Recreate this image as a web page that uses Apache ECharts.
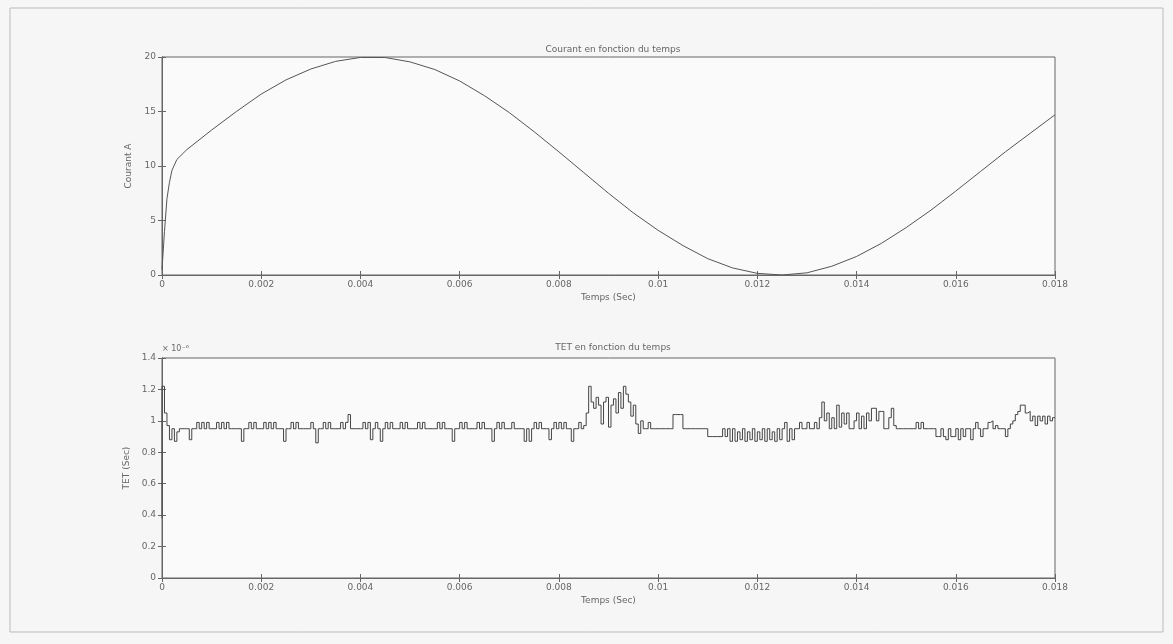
<!DOCTYPE html>
<html><head><meta charset="utf-8">
<script src="https://cdn.jsdelivr.net/npm/echarts@6/dist/echarts.min.js"></script>
<style>html,body{margin:0;padding:0;background:#f6f6f6}#c{width:1173px;height:644px}</style>
</head><body><div id="c"></div>
<script>
// ---- data ----
const xTicks = [0,0.002,0.004,0.006,0.008,0.01,0.012,0.014,0.016,0.018];
const courantTime = [0,0.00005,0.0001,0.00015,0.0002,0.0003,0.0005,0.001,0.0015,0.002,0.0025,0.003,0.0035,0.004,0.0045,0.005,0.0055,0.006,0.0065,0.007,0.0075,0.008,0.0085,0.009,0.0095,0.01,0.0105,0.011,0.0115,0.012,0.0125,0.013,0.0135,0.014,0.0145,0.015,0.0155,0.016,0.0165,0.017,0.0175,0.018];
const courantValue = [0.5,4,7,8.5,9.6,10.6,11.5,13.3,15.0,16.6,17.9,18.9,19.6,19.96,19.95,19.55,18.85,17.8,16.45,14.9,13.15,11.3,9.4,7.5,5.7,4.1,2.7,1.5,0.65,0.15,0.0,0.2,0.8,1.7,2.9,4.35,5.95,7.7,9.5,11.3,13.0,14.7];
const tetStep = 0.00005;
const tetValue = [
0.38,1.22,1.05,0.97,0.88,0.95,0.87,0.93,0.95,0.95,0.95,0.95,0.88,0.95,0.95,0.99,0.95,0.99,0.95,0.99,
0.95,0.95,0.95,0.99,0.95,0.99,0.95,0.99,0.95,0.95,0.95,0.95,0.95,0.87,0.95,0.95,0.99,0.95,0.99,0.95,
0.95,0.95,0.99,0.95,0.99,0.95,0.99,0.95,0.95,0.95,0.87,0.95,0.95,0.99,0.95,0.99,0.95,0.95,0.95,0.95,
0.95,0.99,0.95,0.86,0.95,0.95,0.99,0.95,0.99,0.95,0.95,0.95,0.95,0.99,0.95,0.99,1.04,0.95,0.95,0.95,
0.95,0.95,0.99,0.95,0.99,0.88,0.95,0.99,0.95,0.87,0.95,0.99,0.95,0.99,0.95,0.95,0.95,0.99,0.95,0.99,
0.95,0.95,0.95,0.95,0.99,0.95,0.99,0.95,0.95,0.95,0.95,0.95,0.99,0.95,0.99,0.95,0.95,0.95,0.87,0.95,
0.95,0.99,0.95,0.99,0.95,0.95,0.95,0.95,0.99,0.95,0.99,0.95,0.95,0.95,0.87,0.95,0.99,0.95,0.99,0.95,
0.95,0.95,0.99,0.95,0.95,0.95,0.95,0.87,0.95,0.87,0.95,0.99,0.95,0.99,0.95,0.95,0.95,0.88,0.95,0.99,
0.95,0.99,0.95,0.99,0.95,0.95,0.87,0.95,0.95,0.99,0.95,0.97,1.05,1.22,1.12,1.08,1.15,1.10,0.98,1.12,
1.15,0.96,1.10,1.14,1.05,1.18,1.08,1.22,1.17,1.12,1.03,1.10,0.98,0.92,1.00,0.95,0.95,0.99,0.95,0.95,
0.95,0.95,0.95,0.95,0.95,0.95,0.95,1.04,1.04,1.04,1.04,0.95,0.95,0.95,0.95,0.95,0.95,0.95,0.95,0.95,
0.95,0.90,0.90,0.90,0.90,0.90,0.90,0.95,0.90,0.95,0.87,0.95,0.87,0.93,0.88,0.95,0.87,0.93,0.88,0.95,
0.87,0.93,0.88,0.95,0.87,0.95,0.88,0.93,0.87,0.95,0.88,0.95,0.99,0.87,0.95,0.88,0.95,0.95,0.99,0.95,
0.95,0.99,0.95,0.95,0.99,0.95,1.02,1.12,1.00,1.05,0.95,1.02,0.95,1.10,0.96,1.05,0.98,1.05,0.95,0.95,
1.00,1.05,0.95,1.03,0.95,1.05,1.00,1.08,1.08,1.00,1.06,1.06,0.95,0.95,1.02,1.08,0.97,0.95,0.95,0.95,
0.95,0.95,0.95,0.95,0.95,0.99,0.95,0.99,0.95,0.95,0.95,0.95,0.95,0.90,0.90,0.95,0.90,0.88,0.95,0.90,
0.90,0.95,0.88,0.95,0.90,0.95,0.95,0.88,0.95,0.99,0.95,0.90,0.95,0.95,0.99,1.00,0.95,0.97,0.95,0.95,
0.95,0.90,0.95,0.98,1.00,1.04,1.06,1.10,1.10,1.05,1.06,1.00,1.03,0.97,1.03,1.00,1.03,0.98,1.03,1.00,
1.02];
const courantTicks = [0,5,10,15,20];
const tetTicks = [0,0.2,0.4,0.6,0.8,1,1.2,1.4];
const titles = ['Courant en fonction du temps','TET en fonction du temps'];
const xName = 'Temps (Sec)';
const yNames = ['Courant A','TET (Sec)'];
const tetExponent = '× 10⁻⁶';

// ---- chart ----
const courantData = courantTime.map((t,i)=>[t,courantValue[i]]);
const tetData = tetValue.map((v,i)=>[+(i*tetStep).toFixed(5), v]);
const fmtX = v => { const r = Math.round(v*1000)/1000; return r===0?'0':String(r); };
const fmtY = v => String(Math.round(v*10)/10);
const font = {fontFamily:'DejaVu Sans', fontSize:9, color:'#666'};
const axisLine = {show:true, lineStyle:{color:'#666', width:1}};
const tickIn = {show:true, inside:true, length:4, lineStyle:{color:'#666'}};

function xAxes(g){
  return [
    {type:'value', gridIndex:g, min:0, max:0.018, interval:0.002, position:'bottom',
     axisLine, axisTick:tickIn, splitLine:{show:false},
     axisLabel:Object.assign({formatter:fmtX, margin:5}, font),
     name:xName, nameLocation:'middle', nameGap:18, nameTextStyle:font},
    {type:'value', gridIndex:g, min:0, max:0.018, interval:0.002, position:'top',
     axisLine, axisTick:tickIn, axisLabel:{show:false}, splitLine:{show:false}}
  ];
}
function yAxes(g, max, interval, name){
  return [
    {type:'value', gridIndex:g, min:0, max, interval, position:'left',
     axisLine, axisTick:tickIn, splitLine:{show:false},
     axisLabel:Object.assign({formatter:fmtY, margin:6}, font),
     name, nameLocation:'middle', nameGap:26, nameTextStyle:font},
    {type:'value', gridIndex:g, min:0, max, interval, position:'right',
     axisLine, axisTick:tickIn, axisLabel:{show:false}, splitLine:{show:false}}
  ];
}

const chart = echarts.init(document.getElementById('c'), null, {renderer:'canvas'});
chart.setOption({
  backgroundColor:'#f6f6f6',
  animation:false,
  title:[
    {text:titles[0], left:608, top:40, textAlign:'center', textStyle:Object.assign({fontWeight:'normal'}, font)},
    {text:titles[1], left:608, top:338, textAlign:'center', textStyle:Object.assign({fontWeight:'normal'}, font)}
  ],
  graphic:[
    {type:'rect', shape:{x:10, y:8, width:1153, height:624}, style:{fill:'none', stroke:'#bbb', lineWidth:1}, z:-1},
    {type:'text', left:162, top:345, style:{text:tetExponent, fontFamily:'DejaVu Sans', fontSize:8, fill:'#666'}}
  ],
  grid:[
    {left:162, top:57, width:893, height:218, show:true, backgroundColor:'#fafafa', borderColor:'#666'},
    {left:162, top:358, width:893, height:220, show:true, backgroundColor:'#fafafa', borderColor:'#666'}
  ],
  xAxis:[...xAxes(0), ...xAxes(1)],
  yAxis:[...yAxes(0,20,5,yNames[0]), ...yAxes(1,1.4,0.2,yNames[1])],
  series:[
    {type:'line', xAxisIndex:0, yAxisIndex:0, data:courantData, showSymbol:false, smooth:false,
     lineStyle:{color:'#555', width:1}},
    {type:'line', xAxisIndex:2, yAxisIndex:2, data:tetData, showSymbol:false, step:'start',
     lineStyle:{color:'#444', width:1}}
  ]
});
</script></body></html>
